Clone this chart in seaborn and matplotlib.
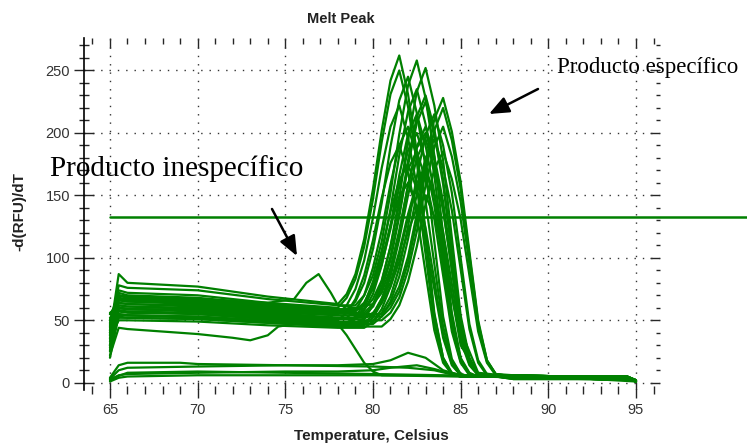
import matplotlib
matplotlib.use("Agg")
import matplotlib.pyplot as plt
from matplotlib.ticker import MultipleLocator
import pandas as pd
import seaborn as sns

# temperature points shared by the melt-peak curves
temps = [65, 65.5, 66, 70, 74, 78, 78.5, 79, 79.5, 80, 80.5, 81, 81.5, 82,
         82.5, 83, 83.5, 84, 84.5, 85, 85.5, 86, 86.5, 87, 88, 91, 94.5, 95]

# -d(RFU)/dT, wells peaking near 81.5-82 C
early_peaks = [
    [40, 87, 80, 77, 69, 63, 71, 87, 115, 155, 202, 242, 262, 231, 185, 121, 56, 20, 8, 6, 5, 5, 5, 5, 5, 4, 4, 1],
    [50, 74, 72, 70, 64, 60, 68, 83, 109, 147, 193, 231, 250, 221, 177, 115, 54, 20, 7, 5, 5, 5, 5, 5, 6, 5, 5, 2],
    [35, 70, 69, 67, 62, 58, 58, 65, 80, 107, 144, 189, 226, 245, 216, 173, 113, 53, 19, 7, 5, 5, 5, 5, 4, 4, 4, 1],
    [55, 66, 65, 63, 58, 55, 62, 75, 98, 132, 172, 205, 222, 196, 157, 103, 48, 18, 7, 5, 5, 5, 5, 5, 5, 4, 4, 2],
    [25, 62, 61, 60, 56, 52, 52, 58, 70, 92, 122, 159, 190, 205, 181, 145, 95, 45, 17, 7, 5, 5, 5, 5, 6, 5, 5, 2],
    [45, 60, 59, 57, 53, 50, 56, 67, 86, 114, 148, 176, 190, 168, 135, 88, 42, 16, 7, 5, 5, 5, 5, 5, 4, 4, 3, 1],
    [52, 58, 57, 55, 51, 48, 48, 53, 63, 81, 106, 137, 162, 175, 155, 124, 82, 39, 15, 6, 5, 5, 5, 5, 5, 5, 4, 2],
    [30, 55, 54, 52, 49, 46, 46, 51, 60, 76, 98, 126, 149, 160, 141, 114, 75, 36, 14, 6, 5, 5, 5, 5, 3, 3, 3, 1],
]

# wells peaking near 82.5-83 C
mid_peaks = [
    [42, 78, 76, 74, 67, 62, 62, 62, 70, 86, 113, 152, 199, 238, 258, 228, 182, 119, 56, 20, 8, 5, 5, 5, 6, 5, 5, 2],
    [48, 72, 70, 68, 63, 59, 59, 59, 59, 67, 82, 109, 148, 194, 233, 252, 222, 178, 116, 54, 20, 7, 5, 5, 5, 4, 4, 1],
    [38, 68, 67, 65, 60, 57, 57, 57, 64, 78, 103, 139, 182, 217, 235, 207, 166, 109, 51, 19, 7, 5, 5, 5, 4, 4, 3, 1],
    [33, 67, 66, 64, 59, 56, 56, 56, 56, 63, 77, 101, 136, 178, 213, 230, 203, 163, 106, 50, 19, 7, 5, 5, 5, 4, 4, 1],
    [55, 64, 63, 61, 57, 54, 54, 54, 54, 61, 75, 98, 133, 174, 208, 225, 199, 159, 104, 49, 18, 7, 5, 5, 6, 5, 5, 2],
    [28, 60, 59, 58, 54, 51, 51, 51, 58, 71, 94, 126, 166, 199, 215, 190, 152, 100, 47, 18, 7, 5, 5, 5, 5, 4, 4, 2],
    [47, 70, 68, 66, 61, 58, 58, 58, 64, 75, 95, 123, 157, 186, 200, 177, 142, 93, 44, 17, 7, 5, 5, 5, 6, 5, 4, 2],
    [50, 57, 56, 55, 51, 48, 48, 48, 48, 54, 67, 89, 120, 158, 189, 205, 181, 145, 95, 45, 17, 7, 5, 5, 4, 4, 4, 1],
    [20, 54, 54, 53, 49, 46, 46, 46, 46, 52, 64, 85, 115, 150, 180, 195, 172, 138, 91, 43, 16, 7, 5, 5, 6, 5, 4, 2],
    [44, 52, 52, 51, 48, 45, 45, 45, 51, 62, 81, 109, 143, 171, 185, 163, 131, 86, 41, 16, 6, 5, 5, 5, 3, 3, 3, 1],
    [36, 50, 50, 49, 46, 44, 44, 44, 44, 49, 59, 77, 102, 132, 157, 170, 150, 121, 79, 38, 15, 6, 5, 5, 5, 4, 4, 2],
    [46, 62, 61, 59, 55, 52, 52, 52, 52, 56, 64, 77, 97, 121, 140, 150, 133, 107, 70, 34, 14, 6, 5, 5, 4, 4, 3, 1],
]

# wells peaking near 83.5-84 C
late_peaks = [
    [40, 66, 65, 64, 59, 56, 56, 55, 55, 55, 55, 63, 77, 101, 135, 176, 211, 228, 201, 161, 105, 50, 18, 7, 5, 5, 4, 2],
    [50, 64, 63, 62, 57, 54, 54, 54, 53, 53, 53, 60, 73, 96, 129, 169, 202, 220, 194, 155, 102, 48, 18, 7, 6, 5, 5, 2],
    [30, 58, 57, 56, 52, 49, 49, 49, 49, 49, 56, 69, 92, 125, 165, 198, 215, 190, 152, 100, 47, 18, 7, 5, 4, 4, 4, 1],
    [56, 60, 59, 58, 54, 51, 51, 51, 50, 50, 50, 56, 68, 90, 121, 158, 189, 205, 181, 145, 95, 45, 17, 7, 5, 4, 4, 1],
    [42, 55, 54, 53, 50, 47, 47, 47, 47, 47, 53, 65, 85, 115, 151, 180, 195, 172, 138, 91, 43, 16, 6, 5, 5, 5, 4, 2],
    [26, 53, 52, 51, 48, 45, 45, 45, 45, 45, 45, 51, 62, 81, 109, 143, 171, 185, 163, 131, 86, 41, 16, 6, 3, 3, 3, 1],
]

# odd wells, each with its own temperature points
bump_temps = [65, 65.5, 66, 70, 74, 75.5, 76.2, 76.9, 77.6, 78, 79, 80, 80.5, 81, 81.5, 82, 82.5, 83, 83.5, 84, 84.5, 85, 86, 88, 95]
bump_vals = [38, 70, 68, 67, 64, 67, 80, 87, 72, 62, 60, 63, 72, 92, 122, 158, 188, 200, 178, 140, 90, 42, 8, 5, 2]

dip_temps = [65, 65.5, 66, 70, 72, 73, 74, 74.6, 76, 78, 79, 80, 81, 81.5, 82, 82.5, 83, 83.5, 84, 84.5, 85, 86, 88, 95]
dip_vals = [22, 44, 43, 39, 36, 34, 38, 45, 48, 47, 48, 55, 80, 105, 135, 160, 170, 150, 115, 70, 30, 7, 5, 2]

drop_temps = [65, 65.5, 66, 70, 74, 77.5, 78, 78.5, 79, 79.5, 80, 80.5, 82, 86, 90, 95]
drop_vals = [30, 60, 59, 58, 56, 55, 47, 38, 27, 16, 9, 6, 6, 5, 5, 2]

low_a_temps = [65, 65.5, 66, 69, 70, 75, 80, 82, 83.5, 85, 88, 95]
low_a_vals = [4, 14, 16, 16, 15, 14, 13, 12, 10, 5, 5, 2]

low_b_temps = [65, 65.5, 66, 70, 75, 78, 80, 81, 82, 83, 84, 85, 88, 95]
low_b_vals = [3, 10, 12, 13, 14, 14, 15, 18, 24, 20, 10, 6, 5, 2]

low_c_temps = [65, 65.5, 66, 70, 75, 78, 80, 81, 82.5, 83.5, 84.5, 86, 95]
low_c_vals = [2, 6, 7, 8, 9, 9, 10, 12, 14, 11, 7, 5, 2]

low_d_temps = [65, 65.5, 66, 70, 75, 80, 85, 90, 95]
low_d_vals = [1, 4, 5, 6, 6, 6, 5, 5, 1]

low_e_temps = [65, 66, 70, 75, 80, 84, 88, 95]
low_e_vals = [3, 8, 9, 8, 7, 6, 5, 2]

threshold = 133

# long-form table, one unit per well
frames = []
well = 0
for group in (early_peaks, mid_peaks, late_peaks):
    for vals in group:
        frames.append(pd.DataFrame({"well": well, "temp": temps, "rfu": vals}))
        well += 1
odd = [(bump_temps, bump_vals), (dip_temps, dip_vals), (drop_temps, drop_vals),
       (low_a_temps, low_a_vals), (low_b_temps, low_b_vals), (low_c_temps, low_c_vals),
       (low_d_temps, low_d_vals), (low_e_temps, low_e_vals)]
for t, v in odd:
    frames.append(pd.DataFrame({"well": well, "temp": t, "rfu": v}))
    well += 1
df = pd.concat(frames, ignore_index=True)

sns.set_style("white")
plt.rcParams["font.family"] = ["Liberation Sans", "DejaVu Sans"]

green = "#008000"
fig = plt.figure(figsize=(7.47, 4.47), dpi=100)
ax = fig.add_axes([84 / 747, 57 / 447, 576 / 747, 352 / 447])

sns.lineplot(data=df, x="temp", y="rfu", units="well", estimator=None,
             color=green, lw=1.6, ax=ax, legend=False)
ax.plot([65, 101.4], [threshold, threshold], color=green, lw=1.8, clip_on=False)

ax.set_xlim(63.52, 96.37)
ax.set_ylim(-5.8, 276)
ax.xaxis.set_major_locator(MultipleLocator(5))
ax.xaxis.set_minor_locator(MultipleLocator(1))
ax.yaxis.set_major_locator(MultipleLocator(50))
ax.yaxis.set_minor_locator(MultipleLocator(10))
ax.grid(True, which="major", color="#333333", lw=1, linestyle=(0, (1, 5)))
ax.set_axisbelow(True)
for side in ("top", "right", "bottom"):
    ax.spines[side].set_visible(False)
ax.spines["left"].set_color("black")
ax.spines["left"].set_linewidth(1.2)

ax.tick_params(axis="y", which="major", direction="inout", length=14, width=1,
               left=True, labelsize=10.5, labelcolor="#333333", pad=3)
ax.tick_params(axis="y", which="minor", direction="inout", length=7, width=1, left=True)
ax.tick_params(axis="x", which="major", direction="inout", length=12, width=1,
               bottom=True, labelsize=10.5, labelcolor="#333333", pad=3)
ax.tick_params(axis="x", which="minor", direction="inout", length=6, width=1, bottom=True)
ax.set_xlabel("")
ax.set_ylabel("")

top = ax.secondary_xaxis("top")
top.xaxis.set_major_locator(MultipleLocator(5))
top.xaxis.set_minor_locator(MultipleLocator(1))
top.tick_params(which="major", direction="in", length=7, width=1, labeltop=False)
top.tick_params(which="minor", direction="in", length=4, width=1)
right = ax.secondary_yaxis("right")
right.yaxis.set_major_locator(MultipleLocator(50))
right.yaxis.set_minor_locator(MultipleLocator(10))
right.tick_params(which="major", direction="in", length=7, width=1, labelright=False)
right.tick_params(which="minor", direction="in", length=3, width=1)
for sec in (top, right):
    for sp in sec.spines.values():
        sp.set_visible(False)

fig.text(341 / 747, 1 - 19 / 447, "Melt Peak", ha="center", va="center",
         fontsize=10.5, fontweight="bold", color="#222222")
fig.text(19 / 747, 1 - 212 / 447, "-d(RFU)/dT", rotation=90, ha="center", va="center",
         fontsize=11, fontweight="bold", color="#222222")
fig.text(371 / 747, 1 - 436 / 447, "Temperature, Celsius", ha="center", va="center",
         fontsize=11, fontweight="bold", color="#222222")

fig.text(50 / 747, 1 - 176 / 447, "Producto inespecífico", ha="left", va="baseline",
         fontsize=21, family="Liberation Serif", color="black")
fig.text(557 / 747, 1 - 73 / 447, "Producto específico", ha="left", va="baseline",
         fontsize=16.5, family="Liberation Serif", color="black")

arrow = dict(arrowstyle="-|>,head_length=0.6,head_width=0.25", color="black",
             lw=1.8, mutation_scale=20, shrinkA=0, shrinkB=0)
ax.annotate("", xy=(297, 447 - 256), xytext=(272, 447 - 209),
            xycoords="figure pixels", textcoords="figure pixels", arrowprops=arrow)
ax.annotate("", xy=(489, 447 - 114), xytext=(538, 447 - 89),
            xycoords="figure pixels", textcoords="figure pixels", arrowprops=arrow)

fig.savefig("out.png", dpi=100)
